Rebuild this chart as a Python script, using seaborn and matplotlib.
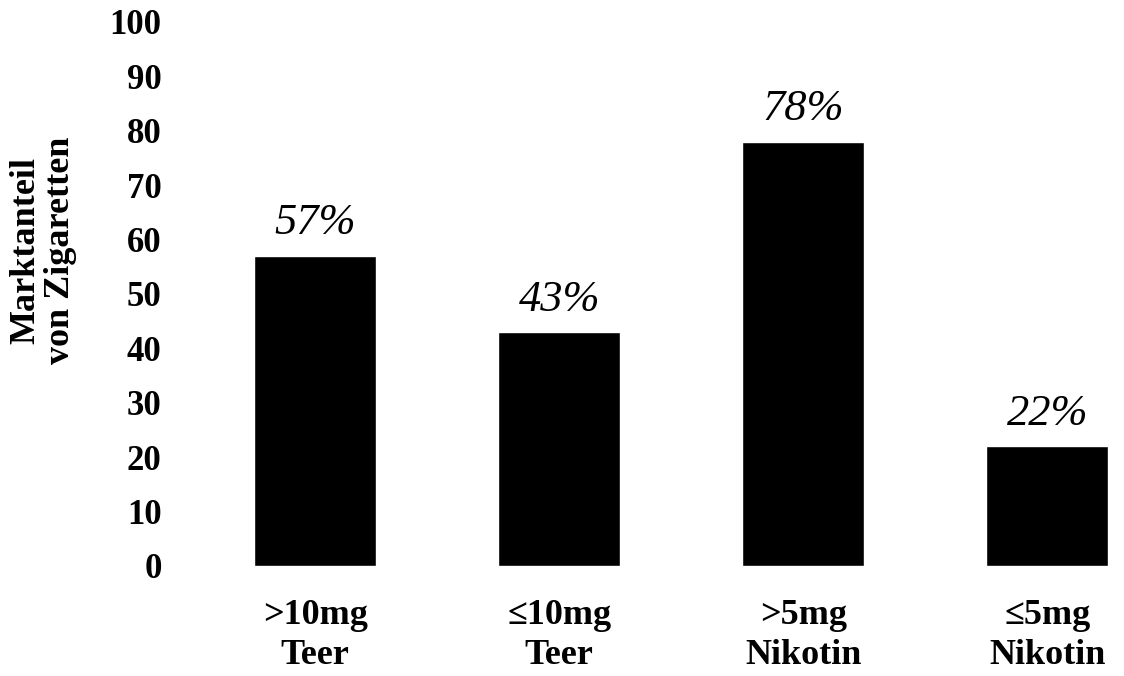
import matplotlib
matplotlib.use("Agg")
import matplotlib.pyplot as plt
import seaborn as sns
import pandas as pd

categories = [">10mg\nTeer", "≤10mg\nTeer", ">5mg\nNikotin", "≤5mg\nNikotin"]
shares = [57, 43, 78, 22]
value_labels = ["57%", "43%", "78%", "22%"]
y_ticks = list(range(0, 101, 10))

sns.set_theme(style="white")
plt.rcParams["font.family"] = ["Liberation Serif", "DejaVu Serif"]
plt.rcParams["text.color"] = "black"
plt.rcParams["axes.labelcolor"] = "black"
plt.rcParams["xtick.color"] = "black"
plt.rcParams["ytick.color"] = "black"

df = pd.DataFrame({"Kategorie": categories, "Anteil": shares})

fig = plt.figure(figsize=(11.24, 6.76), dpi=100)
ax = fig.add_axes([181 / 1124, (676 - 566) / 676, (1123 - 181) / 1124, 544 / 676])

sns.barplot(data=df, x="Kategorie", y="Anteil", color="black",
            width=0.5, saturation=1, ax=ax)

ax.set_xlim(-0.55, 3.31)
ax.set_ylim(0, 100)
ax.set_yticks(y_ticks)
ax.set_yticklabels([str(t) for t in y_ticks], fontsize=25, fontweight="bold")
ax.tick_params(axis="y", length=0, pad=14)
ax.tick_params(axis="x", length=0, pad=24)
for lab in ax.get_xticklabels():
    lab.set_fontsize(26)
    lab.set_fontweight("bold")
    lab.set_linespacing(1.25)

for i, (v, txt) in enumerate(zip(shares, value_labels)):
    ax.annotate(txt, xy=(i, v), xytext=(0, 9), textcoords="offset points",
                ha="center", va="bottom", fontsize=32, fontstyle="italic")

ax.set_xlabel("")
ax.set_ylabel("Marktanteil\nvon Zigaretten", fontsize=26, fontweight="bold",
              linespacing=1.1)
ax.yaxis.set_label_coords(-0.11, 0.58)
sns.despine(ax=ax, left=True, bottom=True)

fig.savefig("out.png", dpi=100)
